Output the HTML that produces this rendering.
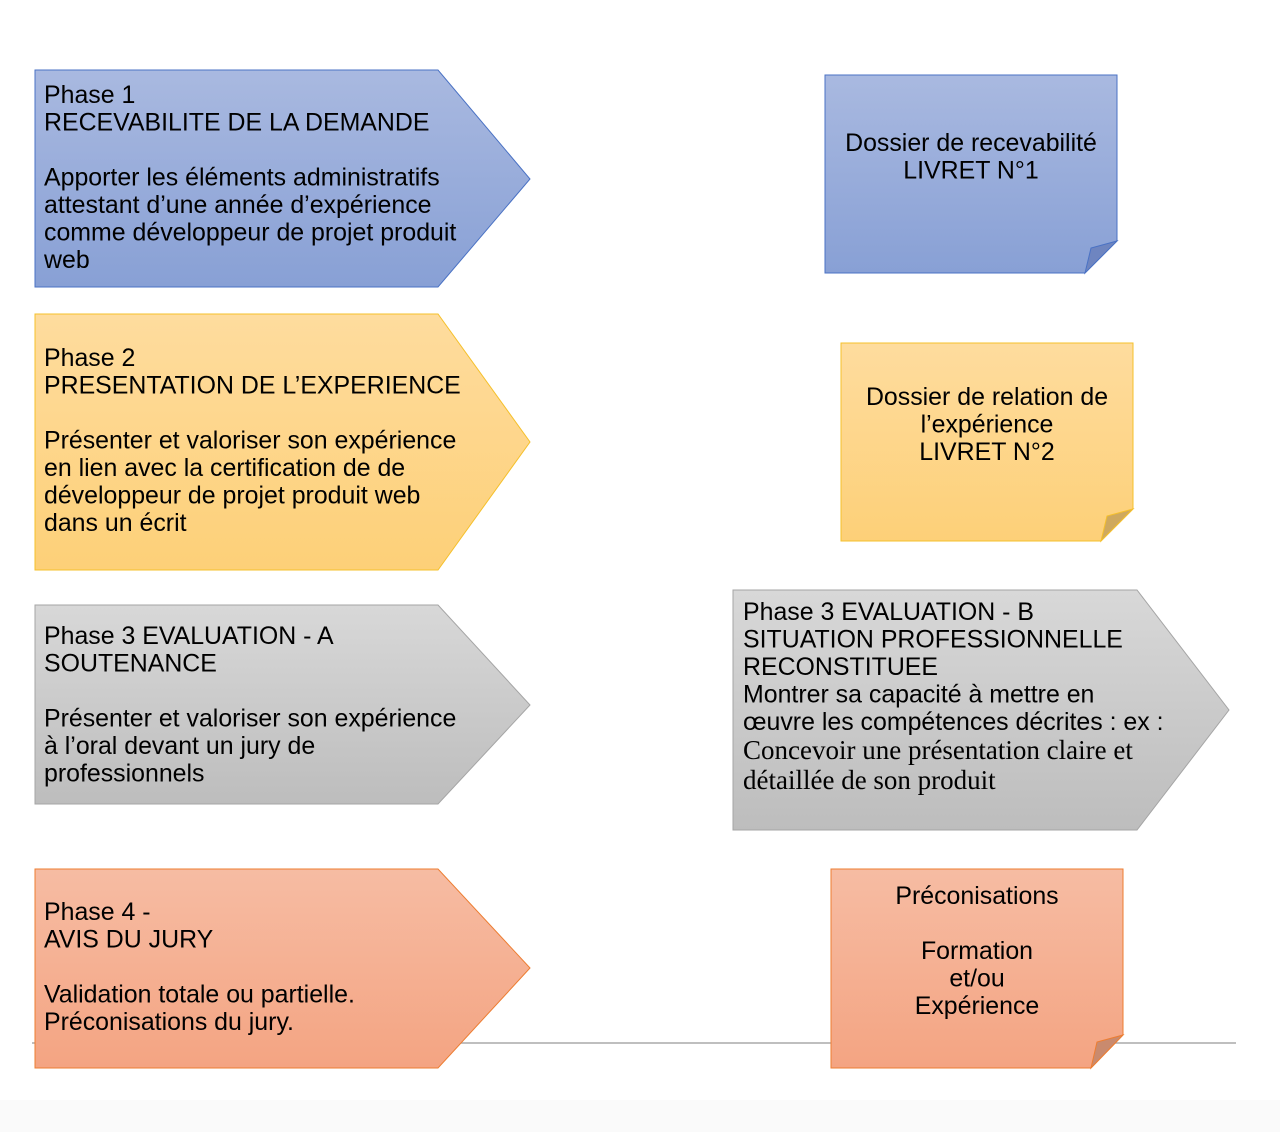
<!DOCTYPE html>
<html><head><meta charset="utf-8"><style>
html,body{margin:0;padding:0;background:#fff}
svg{display:block}
text{font-family:"Liberation Sans",sans-serif;font-size:24.9px;fill:#000}
.s{font-family:"Liberation Serif",serif;font-size:27px}
</style></head><body>
<svg width="1280" height="1132" viewBox="0 0 1280 1132">
<defs>
<linearGradient id="b" x1="0" y1="0" x2="0" y2="1"><stop offset="0" stop-color="#a9b9e0"/><stop offset="1" stop-color="#88a0d5"/></linearGradient>
<linearGradient id="y" x1="0" y1="0" x2="0" y2="1"><stop offset="0" stop-color="#fedc9e"/><stop offset="1" stop-color="#fdd078"/></linearGradient>
<linearGradient id="g" x1="0" y1="0" x2="0" y2="1"><stop offset="0" stop-color="#d8d8d8"/><stop offset="1" stop-color="#bdbdbd"/></linearGradient>
<linearGradient id="o" x1="0" y1="0" x2="0" y2="1"><stop offset="0" stop-color="#f6bca3"/><stop offset="1" stop-color="#f4a482"/></linearGradient>
</defs>
<rect x="0" y="1100" width="1280" height="32" fill="#fafafa"/>
<line x1="32" y1="1043" x2="1236" y2="1043" stroke="#aaa" stroke-width="1.5"/>
<!-- pentagons -->
<polygon points="35,70 438,70 530,179 438,287 35,287" fill="url(#b)" stroke="#4a72c4" stroke-width="1"/>
<polygon points="35,314 438,314 530,442 438,570 35,570" fill="url(#y)" stroke="#f5c02b" stroke-width="1"/>
<polygon points="35,605 438,605 530,705 438,804 35,804" fill="url(#g)" stroke="#a5a5a5" stroke-width="1"/>
<polygon points="733,590 1137,590 1229,710 1137,830 733,830" fill="url(#g)" stroke="#a5a5a5" stroke-width="1"/>
<polygon points="35,869 438,869 530,968 438,1068 35,1068" fill="url(#o)" stroke="#ed7d31" stroke-width="1"/>
<!-- notes -->
<polygon points="825,75 1117,75 1117,241 1085,273 825,273" fill="url(#b)" stroke="#4a72c4"/>
<polygon points="1085,273 1091,248 1117,241" fill="#6e85c0" stroke="#4a72c4"/>
<polygon points="841,343 1133,343 1133,509 1101,541 841,541" fill="url(#y)" stroke="#f5c02b"/>
<polygon points="1101,541 1107,516 1133,509" fill="#cfa95e" stroke="#f5c02b"/>
<polygon points="831,869 1123,869 1123,1035 1091,1068 831,1068" fill="url(#o)" stroke="#ed7d31"/>
<polygon points="1091,1068 1097,1042 1123,1035" fill="#c98a6e" stroke="#ed7d31"/>
<!-- texts -->
<text x="44" y="103"><tspan x="44">Phase 1</tspan><tspan x="44" dy="27.5">RECEVABILITE DE LA DEMANDE</tspan><tspan x="44" dy="55">Apporter les éléments administratifs</tspan><tspan x="44" dy="27.5">attestant d’une année d’expérience</tspan><tspan x="44" dy="27.5">comme développeur de projet produit</tspan><tspan x="44" dy="27.5">web</tspan></text>
<text x="44" y="366"><tspan x="44">Phase 2</tspan><tspan x="44" dy="27.5">PRESENTATION DE L’EXPERIENCE</tspan><tspan x="44" dy="55">Présenter et valoriser son expérience</tspan><tspan x="44" dy="27.5">en lien avec la certification de de</tspan><tspan x="44" dy="27.5">développeur de projet produit web</tspan><tspan x="44" dy="27.5">dans un écrit</tspan></text>
<text x="44" y="644"><tspan x="44">Phase 3 EVALUATION - A</tspan><tspan x="44" dy="27.5">SOUTENANCE</tspan><tspan x="44" dy="55">Présenter et valoriser son expérience</tspan><tspan x="44" dy="27.5">à l’oral devant un jury de</tspan><tspan x="44" dy="27.5">professionnels</tspan></text>
<text x="743" y="620"><tspan x="743">Phase 3 EVALUATION - B</tspan><tspan x="743" dy="27.5">SITUATION PROFESSIONNELLE</tspan><tspan x="743" dy="27.5">RECONSTITUEE</tspan><tspan x="743" dy="27.5">Montrer sa capacité à mettre en</tspan><tspan x="743" dy="27.5">œuvre les compétences décrites : ex :</tspan></text>
<text class="s" x="743" y="759"><tspan x="743">Concevoir une présentation claire et</tspan><tspan x="743" dy="30">détaillée de son produit</tspan></text>
<text x="44" y="920"><tspan x="44">Phase 4 -</tspan><tspan x="44" dy="27.5">AVIS DU JURY</tspan><tspan x="44" dy="55">Validation totale ou partielle.</tspan><tspan x="44" dy="27.5">Préconisations du jury.</tspan></text>
<text x="971" y="151" text-anchor="middle"><tspan x="971">Dossier de recevabilité</tspan><tspan x="971" dy="27.5">LIVRET N°1</tspan></text>
<text x="987" y="405" text-anchor="middle"><tspan x="987">Dossier de relation de</tspan><tspan x="987" dy="27.5">l’expérience</tspan><tspan x="987" dy="27.5">LIVRET N°2</tspan></text>
<text x="977" y="904" text-anchor="middle"><tspan x="977">Préconisations</tspan><tspan x="977" dy="55">Formation</tspan><tspan x="977" dy="27.5">et/ou</tspan><tspan x="977" dy="27.5">Expérience</tspan></text>
</svg>
</body></html>
